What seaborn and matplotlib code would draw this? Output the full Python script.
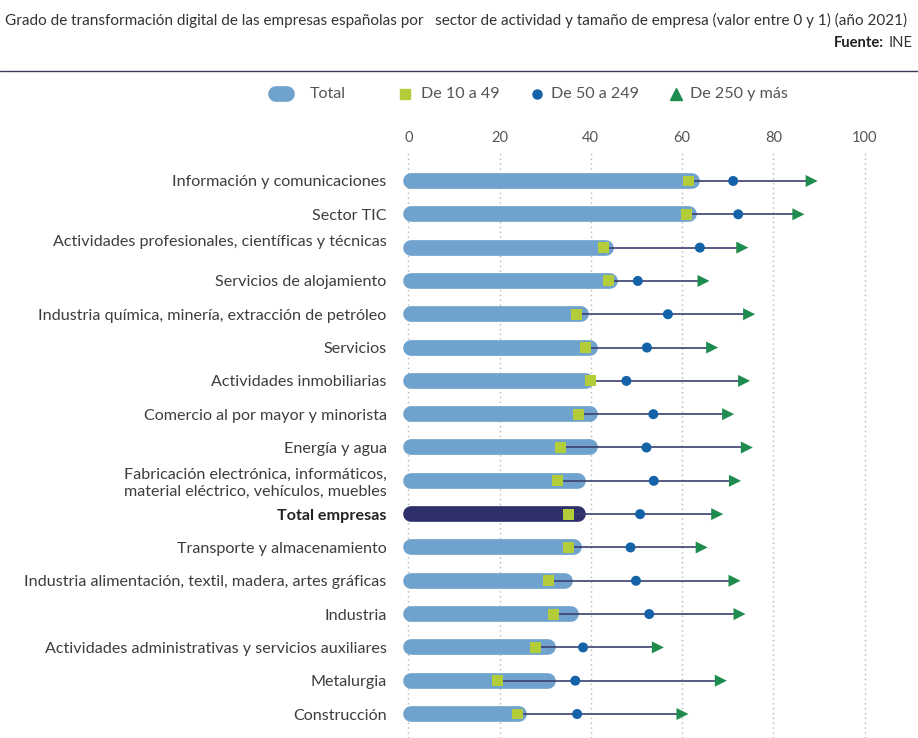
import matplotlib
matplotlib.use("Agg")
import matplotlib.pyplot as plt
from matplotlib.lines import Line2D
import seaborn as sns
import pandas as pd
import numpy as np

# ---------------- data ----------------
sectores = [
    "Información y comunicaciones",
    "Sector TIC",
    "Actividades profesionales, científicas y técnicas",
    "Servicios de alojamiento",
    "Industria química, minería, extracción de petróleo",
    "Servicios",
    "Actividades inmobiliarias",
    "Comercio al por mayor y minorista",
    "Energía y agua",
    "Fabricación electrónica, informáticos,\nmaterial eléctrico, vehículos, muebles",
    "Total empresas",
    "Transporte y almacenamiento",
    "Industria alimentación, textil, madera, artes gráficas",
    "Industria",
    "Actividades administrativas y servicios auxiliares",
    "Metalurgia",
    "Construcción",
]
total = [62.8, 62.1, 44.0, 44.9, 38.5, 40.4, 39.7, 40.4, 40.4, 37.8, 37.8, 36.9, 34.9, 36.3, 31.3, 31.3, 24.9]
de_10_49 = [61.4, 60.9, 42.7, 43.8, 36.9, 38.8, 39.9, 37.3, 33.3, 32.7, 35.1, 35.1, 30.7, 31.8, 27.8, 19.5, 23.9]
de_50_249 = [71.2, 72.3, 63.9, 50.3, 56.9, 52.3, 47.8, 53.7, 52.2, 53.8, 50.8, 48.7, 49.9, 52.8, 38.3, 36.6, 37.0]
de_250_mas = [88.4, 85.5, 73.2, 64.7, 74.7, 66.6, 73.6, 70.1, 74.2, 71.6, 67.7, 64.3, 71.5, 72.6, 54.7, 68.5, 60.1]
x_ticks = [0, 20, 40, 60, 80, 100]

titulo = ("Grado de transformación digital de las empresas españolas por   sector de actividad "
          "y tamaño de empresa (valor entre 0 y 1) (año 2021)")
legend_labels = ["Total", "De 10 a 49", "De 50 a 249", "De 250 y más"]

# ---------------- style ----------------
C_BAR = "#6fa3cd"
C_TOTAL = "#2e2f6b"
C_SQ = "#b3cd3a"
C_CIR = "#1462a8"
C_TRI = "#1f8c4f"
C_LINE = "#3b3f6e"
C_TXT = "#3d3d3d"

sns.set_theme(style="white")
plt.rcParams["font.family"] = ["Lato", "DejaVu Sans"]

W, H = 918, 738
fig = plt.figure(figsize=(W / 100, H / 100), dpi=100)

def fx(px):
    return px / W

def fy(py):
    return 1 - py / H

# axes: left 395px, right 905px, top 152px, bottom 738px
ax = fig.add_axes([fx(395), fy(738), fx(905) - fx(395), fy(152) - fy(738)])

n = len(sectores)
df = pd.DataFrame({
    "sector": sectores,
    "pos": np.arange(n),
    "total": total,
    "d10": de_10_49,
    "d50": de_50_249,
    "d250": de_250_mas,
})

px_per_unit = 4.5625
xlim = ((395 - 408.3) / px_per_unit, (905 - 408.3) / px_per_unit)
ylim = (n - 1 + 0.72, -0.87)

# grid
for t in x_ticks:
    ax.axvline(t, color="#b5b5b5", lw=1.0, ls=(0, (1, 2.5)), zorder=0)

# rounded bars
off = 3 / px_per_unit
bar_colors = [C_TOTAL if s == "Total empresas" else C_BAR for s in sectores]
lc = ax.hlines(df["pos"], 0 + off, df["total"] - off, colors=bar_colors, lw=11.3, zorder=1)
lc.set_capstyle("round")

# connector lines
ax.hlines(df["pos"], df["d10"], df["d250"], colors=C_LINE, lw=1.2, zorder=2)

# markers via seaborn
sns.scatterplot(data=df, x="d250", y="pos", marker=">", s=75, color=C_TRI,
                edgecolor="none", linewidth=0, ax=ax, zorder=3, legend=False)
sns.scatterplot(data=df, x="d50", y="pos", marker="o", s=52, color=C_CIR,
                edgecolor="none", linewidth=0, ax=ax, zorder=4, legend=False)
sns.scatterplot(data=df, x="d10", y="pos", marker="s", s=62, color=C_SQ,
                edgecolor="none", linewidth=0, ax=ax, zorder=5, legend=False)

ax.set_xlim(*xlim)
ax.set_ylim(*ylim)
ax.set_xlabel("")
ax.set_ylabel("")

# ticks
ax.xaxis.tick_top()
ax.set_xticks(x_ticks)
ax.set_xticklabels([str(t) for t in x_ticks], fontsize=10.5, color="#555555")
ax.tick_params(axis="x", length=0, pad=5)

ylabels = [s + "\n " if s.startswith("Actividades profesionales") else s for s in sectores]
ax.set_yticks(np.arange(n))
ax.set_yticklabels(ylabels, fontsize=11.6, color=C_TXT, ha="right", multialignment="right")
ax.tick_params(axis="y", length=0, pad=6)
for lab in ax.get_yticklabels():
    if lab.get_text() == "Total empresas":
        lab.set_fontweight("bold")
        lab.set_color("#222222")

for sp in ax.spines.values():
    sp.set_visible(False)

# title & source
fig.text(fx(5), fy(20), titulo, fontsize=11.0, color="#333333", ha="left", va="center")
fig.text(fx(913), fy(43), "INE", fontsize=10.6, color="#333333", ha="right", va="center")
fig.text(fx(884), fy(43), "Fuente:", fontsize=10.6, color="#222222", ha="right",
         va="center", fontweight="bold")
fig.add_artist(Line2D([0, 1], [fy(71), fy(71)], transform=fig.transFigure,
                      color="#3a3a5e", lw=1.0))

# legend (manual)
ly = fy(94)
pill = Line2D([fx(276), fx(287)], [ly, ly], transform=fig.transFigure, color=C_BAR,
              lw=11.3, solid_capstyle="round")
fig.add_artist(pill)
fig.text(fx(310), ly, legend_labels[0], fontsize=11.6, color="#555555", va="center")
fig.add_artist(Line2D([fx(405)], [ly], transform=fig.transFigure, marker="s", ms=7.5,
                      color=C_SQ, ls="none"))
fig.text(fx(421), ly, legend_labels[1], fontsize=11.6, color="#555555", va="center")
fig.add_artist(Line2D([fx(537)], [ly], transform=fig.transFigure, marker="o", ms=6.5,
                      color=C_CIR, ls="none"))
fig.text(fx(551), ly, legend_labels[2], fontsize=11.6, color="#555555", va="center")
fig.add_artist(Line2D([fx(676)], [ly], transform=fig.transFigure, marker="^", ms=8,
                      color=C_TRI, ls="none"))
fig.text(fx(690), ly, legend_labels[3], fontsize=11.6, color="#555555", va="center")

fig.savefig("out.png", dpi=100, facecolor="white")
